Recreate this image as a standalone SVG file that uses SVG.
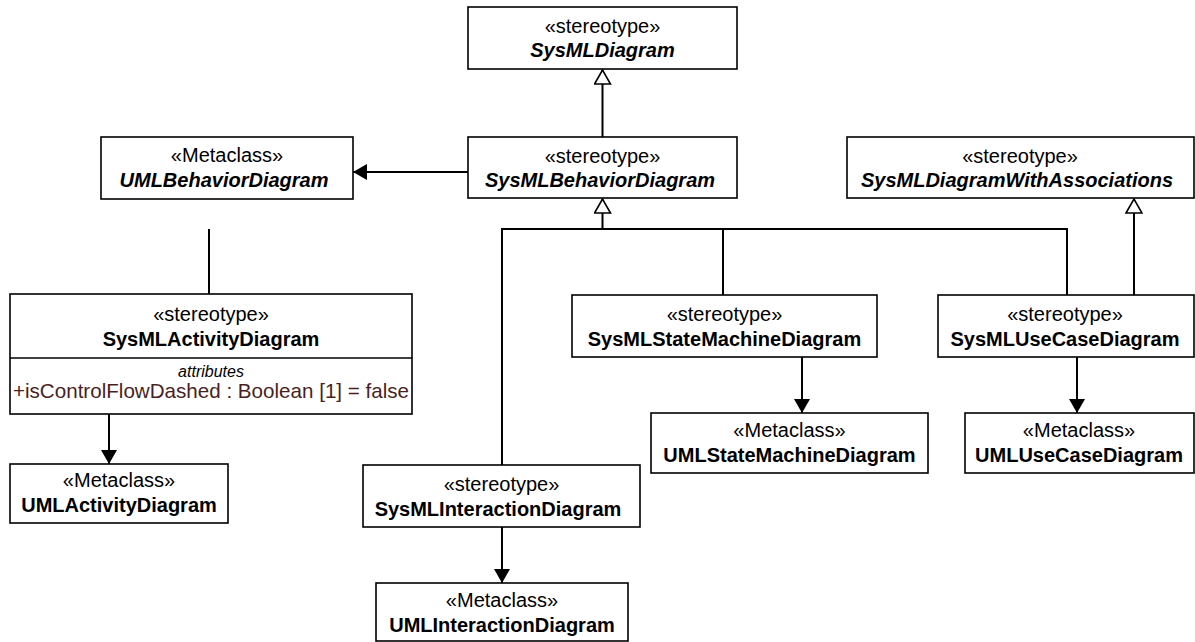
<svg xmlns="http://www.w3.org/2000/svg" width="1195" height="642" viewBox="0 0 1195 642">
<style>
.box{fill:#fff;stroke:#000;stroke-width:1.6}
.st{font-family:"Liberation Sans",Arial,sans-serif;font-size:20px;text-anchor:middle;fill:#000}
.nm{font-family:"Liberation Sans",Arial,sans-serif;font-size:20px;font-weight:bold;text-anchor:middle;fill:#000}
.ab{font-style:italic}
.att{font-family:"Liberation Sans",Arial,sans-serif;font-size:16px;font-style:italic;text-anchor:middle;fill:#000}
.attr{font-family:"Liberation Sans",Arial,sans-serif;font-size:20.6px;text-anchor:middle;fill:#4a1f1f}
.ln{fill:none;stroke:#000;stroke-width:2}
</style>
<defs>
<marker id="gen" markerUnits="userSpaceOnUse" viewBox="-1 -1 16 18" refX="14" refY="8" markerWidth="16" markerHeight="18" orient="auto">
<path d="M0,0 L14,8 L0,16 Z" fill="#fff" stroke="#000" stroke-width="1.6"/>
</marker>
<marker id="arr" markerUnits="userSpaceOnUse" viewBox="0 0 14 16" refX="14" refY="8" markerWidth="14" markerHeight="16" orient="auto">
<path d="M0,0 L14,8 L0,16 Z" fill="#000"/>
</marker>
</defs>
<g id="connectors">
<path class="ln" d="M602.5,137 L602.5,70" marker-end="url(#gen)"/>
<path class="ln" d="M468,172 L353,172" marker-end="url(#arr)"/>
<path class="ln" d="M209,229 L209,294"/>
<path class="ln" d="M602.5,229 L602.5,199" marker-end="url(#gen)"/>
<path class="ln" d="M502,465 L502,229 L1067,229 L1067,295"/>
<path class="ln" d="M723,229 L723,295"/>
<path class="ln" d="M1134,295 L1134,199" marker-end="url(#gen)"/>
<path class="ln" d="M109,414 L109,464" marker-end="url(#arr)"/>
<path class="ln" d="M802,357 L802,413" marker-end="url(#arr)"/>
<path class="ln" d="M1077,357 L1077,413" marker-end="url(#arr)"/>
<path class="ln" d="M502,527 L502,583" marker-end="url(#arr)"/>
</g>
<g id="SysMLDiagram">
<rect class="box" x="468" y="7" width="269" height="62"/>
<text class="st" x="602.5" y="33">«stereotype»</text>
<text class="nm ab" x="602.5" y="57">SysMLDiagram</text>
</g>
<g id="SysMLBehaviorDiagram">
<rect class="box" x="468" y="137" width="269" height="61"/>
<text class="st" x="602.5" y="163">«stereotype»</text>
<text class="nm ab" x="600" y="187">SysMLBehaviorDiagram</text>
</g>
<g id="UMLBehaviorDiagram">
<rect class="box" x="101" y="137" width="252" height="62"/>
<text class="st" x="227" y="162">«Metaclass»</text>
<text class="nm ab" x="224" y="187">UMLBehaviorDiagram</text>
</g>
<g id="SysMLDiagramWithAssociations">
<rect class="box" x="847" y="137" width="347" height="61"/>
<text class="st" x="1020" y="163">«stereotype»</text>
<text class="nm ab" x="1017" y="187">SysMLDiagramWithAssociations</text>
</g>
<g id="SysMLActivityDiagram">
<rect class="box" x="10" y="294" width="402" height="120"/>
<line x1="10" y1="358" x2="412" y2="358" stroke="#000" stroke-width="1.6"/>
<text class="st" x="211" y="321">«stereotype»</text>
<text class="nm" x="211" y="346">SysMLActivityDiagram</text>
<text class="att" x="211" y="377">attributes</text>
<text class="attr" x="211" y="398">+isControlFlowDashed : Boolean [1] = false</text>
</g>
<g id="UMLActivityDiagram">
<rect class="box" x="10" y="464" width="218" height="59"/>
<text class="st" x="119" y="487">«Metaclass»</text>
<text class="nm" x="119" y="512">UMLActivityDiagram</text>
</g>
<g id="SysMLStateMachineDiagram">
<rect class="box" x="572" y="295" width="305" height="62"/>
<text class="st" x="724.5" y="321">«stereotype»</text>
<text class="nm" x="724.5" y="346">SysMLStateMachineDiagram</text>
</g>
<g id="UMLStateMachineDiagram">
<rect class="box" x="651" y="413" width="277" height="60"/>
<text class="st" x="789.5" y="437">«Metaclass»</text>
<text class="nm" x="789.5" y="462">UMLStateMachineDiagram</text>
</g>
<g id="SysMLUseCaseDiagram">
<rect class="box" x="938" y="295" width="256" height="62"/>
<text class="st" x="1065" y="321">«stereotype»</text>
<text class="nm" x="1065" y="346">SysMLUseCaseDiagram</text>
</g>
<g id="UMLUseCaseDiagram">
<rect class="box" x="965" y="413" width="229" height="60"/>
<text class="st" x="1079" y="437">«Metaclass»</text>
<text class="nm" x="1079" y="462">UMLUseCaseDiagram</text>
</g>
<g id="SysMLInteractionDiagram">
<rect class="box" x="363" y="465" width="277" height="62"/>
<text class="st" x="501.5" y="491">«stereotype»</text>
<text class="nm" x="498" y="516">SysMLInteractionDiagram</text>
</g>
<g id="UMLInteractionDiagram">
<rect class="box" x="376" y="583" width="252" height="58"/>
<text class="st" x="502" y="607">«Metaclass»</text>
<text class="nm" x="502" y="632">UMLInteractionDiagram</text>
</g>
</svg>
